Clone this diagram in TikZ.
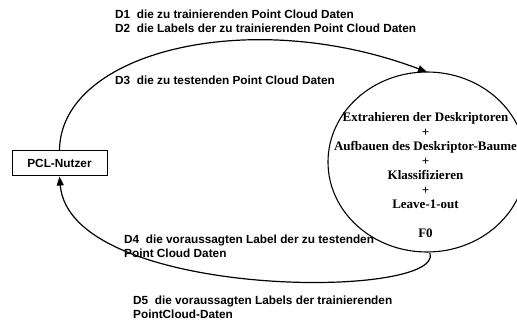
\documentclass[tikz,border=0pt]{standalone}
\usepackage{fontspec}
\setmainfont{Liberation Serif}
\setsansfont{Liberation Sans}
\usetikzlibrary{arrows.meta}
\begin{document}
\begin{tikzpicture}[x=1pt,y=-1pt,
  flow/.style={line width=1.2pt,-{Triangle[length=9pt,width=7pt]}},
  lbl/.style={font=\sffamily\bfseries\fontsize{11.8}{13.8}\selectfont,anchor=west,align=left,inner sep=0pt},
  extent/.style={draw=black,line width=1pt,fill=white,font=\sffamily\bfseries\fontsize{11.8}{13.8}\selectfont,inner sep=0pt}]
\useasboundingbox (0,0) rectangle (517,320);
\fill[white] (0,0) rectangle (517,320);

% process bubble
\draw[line width=1.1pt] (427,162) ellipse [x radius=99, y radius=90];
\coordinate (F0top) at (427,72);
\coordinate (F0bot) at (430,253);
\node[align=center,font=\rmfamily\bfseries\fontsize{13}{14.5}\selectfont,inner sep=0pt] (ptext) at (425.5,175)
  {Extrahieren der Deskriptoren\\+\\Aufbauen des Deskriptor-Baume\\+\\Klassifizieren\\+\\Leave-1-out\\[14pt]F0};

% external entity
\node[extent,minimum width=95pt,minimum height=25pt] (user) at (59.5,163.5) {PCL-Nutzer};

% data flows
\draw[flow] (user.north) .. controls (60,52) and (250,5) .. (F0top);
\draw[flow] (F0bot) .. controls (445,300) and (70,300) .. (user.south);

% flow labels
\node[lbl] (d12) at (115,21.5) {D1\ \ die zu trainierenden Point Cloud Daten\\D2\ \ die Labels der zu trainierenden Point Cloud Daten};
\node[lbl] (d3) at (115,80) {D3\ \ die zu testenden Point Cloud Daten};
\node[lbl] (d4) at (124,246) {D4\ \ die voraussagten Label der zu testenden\\Point Cloud Daten};
\node[lbl] (d5) at (133,307) {D5\ \ die voraussagten Labels der trainierenden\\PointCloud-Daten};
\end{tikzpicture}
\end{document}
